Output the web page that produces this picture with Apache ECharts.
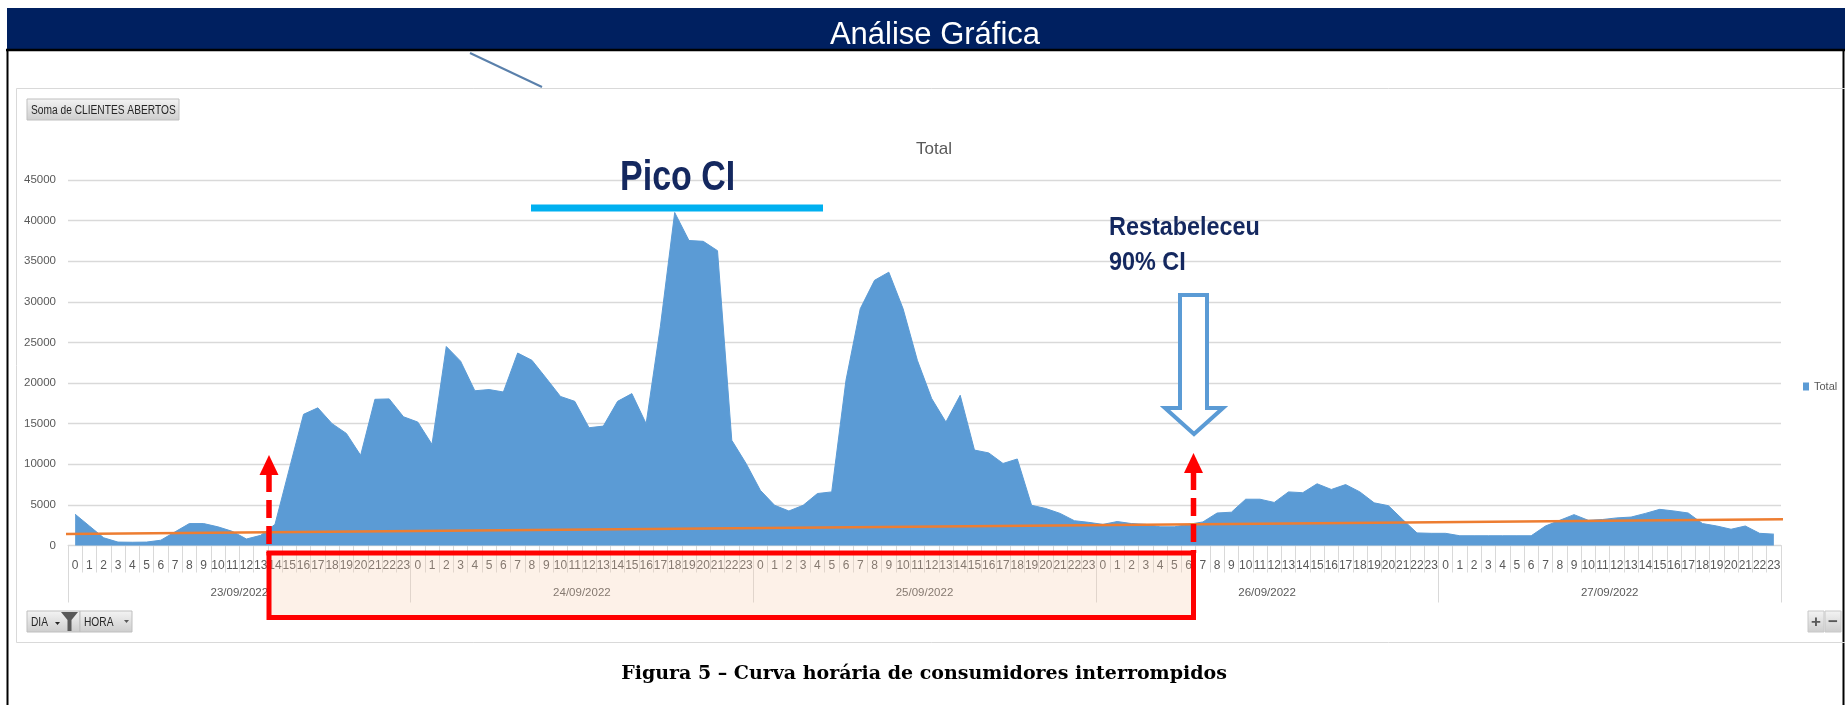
<!DOCTYPE html>
<html><head><meta charset="utf-8">
<script src="https://cdn.jsdelivr.net/npm/echarts@6/dist/echarts.min.js"></script>
<style>html,body{margin:0;padding:0;background:#fff}#c{width:1845px;height:705px}</style>
</head><body><div id="c"></div>
<script>
// ---- data ----
const hourLabels = ['0','1','2','3','4','5','6','7','8','9','10','11','12','13','14','15','16','17','18','19','20','21','22','23'];
const dayLabels = ['23/09/2022','24/09/2022','25/09/2022','26/09/2022','27/09/2022'];
const day23 = [3850,2400,950,420,400,420,650,1680,2700,2700,2300,1750,800,1250,2600,9400,16150,16950,15000,13800,11100,18000,18050,15850];
const day24 = [15200,12450,24500,22700,19050,19200,18900,23700,22800,20600,18350,17750,14500,14700,17750,18700,15000,27000,41000,37550,37450,36300,12950,10100];
const day25 = [6800,4950,4250,4950,6400,6600,20350,29150,32650,33650,29150,22800,18100,15200,18500,11750,11400,10100,10650,4950,4550,3950,3050,2850];
const day26 = [2600,2950,2700,2600,2300,2300,2600,2900,4000,4100,5700,5700,5300,6600,6500,7600,6900,7500,6600,5250,4900,3200,1550,1500];
const day27 = [1500,1200,1200,1200,1200,1200,1200,2400,3100,3800,3100,3200,3400,3500,3950,4450,4250,4000,2700,2400,2000,2400,1500,1400];
const yTicks = [0,5000,10000,15000,20000,25000,30000,35000,40000,45000];
// linear trend line (Excel "Linear (Total)"), endpoints, x in hour index
const trendX = [-2.1, 121.2];
const trendY = [1390, 3270];

// ---- build ----
const categories = [];
dayLabels.forEach(() => hourLabels.forEach(h => categories.push(h)));
const values = [].concat(day23, day24, day25, day26, day27);
const trendData = trendX.map((x, i) => [x, trendY[i]]);

const GRAY = '#595959', GRID = '#d9d9d9';
const SANS = "'Liberation Sans', Arial, sans-serif";
const NAVY = '#14285f';
const btnFill = new echarts.graphic.LinearGradient(0,0,0,1,[{offset:0,color:'#f4f4f4'},{offset:1,color:'#cdcdcd'}]);

const chart = echarts.init(document.getElementById('c'), null, {renderer:'canvas'});
chart.setOption({
  animation: false,
  backgroundColor: '#ffffff',
  title: { text: 'Total', left: 916, top: 141, padding: 0,
    textStyle: { color: GRAY, fontSize: 17, fontWeight: 'normal', fontFamily: SANS } },
  legend: { data: ['Total'], left: 1803, top: 381, icon: 'rect', itemWidth: 6, itemHeight: 8, itemGap: 5, padding: 0,
    textStyle: { color: GRAY, fontSize: 11, fontFamily: SANS } },
  grid: { left: 68, right: 64, top: 180, bottom: 159.5, containLabel: false, outerBoundsMode: 'none' },
  xAxis: [
    { type: 'category', data: categories, boundaryGap: true, position: 'bottom',
      axisLine: { show: true, lineStyle: { color: GRID, width: 1 } },
      axisTick: { show: true, interval: 0, length: 27, lineStyle: { color: GRID, width: 1 } },
      axisLabel: { interval: 0, margin: 14, color: GRAY, fontSize: 12, fontFamily: SANS },
      splitLine: { show: false } },
    { type: 'category', data: dayLabels, boundaryGap: true, position: 'bottom',
      axisLine: { show: false },
      axisTick: { show: true, interval: 0, length: 57, lineStyle: { color: GRID, width: 1 } },
      axisLabel: { interval: 0, margin: 41.5, color: GRAY, fontSize: 11.5, fontFamily: SANS },
      splitLine: { show: false } },
    { type: 'value', min: -0.5, max: categories.length - 0.5, show: false, position: 'bottom' }
  ],
  yAxis: { type: 'value', min: yTicks[0], max: yTicks[yTicks.length-1], interval: yTicks[1]-yTicks[0],
    axisLine: { show: false }, axisTick: { show: false },
    axisLabel: { color: GRAY, fontSize: 11.5, fontFamily: SANS, margin: 12, formatter: v => String(v) },
    splitLine: { show: true, lineStyle: { color: GRID, width: 1.3 } } },
  series: [
    { name: 'Total', type: 'line', xAxisIndex: 0, data: values, symbol: 'none', z: 2,
      lineStyle: { color: '#5b9bd5', width: 1 }, itemStyle: { color: '#5b9bd5' },
      areaStyle: { color: '#5b9bd5', opacity: 1 } },
    { name: 'Linear (Total)', type: 'line', xAxisIndex: 2, data: trendData, symbol: 'none', clip: false, z: 3,
      lineStyle: { color: '#ed7d31', width: 2.5 } }
  ],
  graphic: [
    // header band
    { type: 'rect', shape: { x: 7, y: 8, width: 1838, height: 41 }, style: { fill: '#002060' } },
    { type: 'text', x: 935, y: 35, style: { text: 'Análise Gráfica', fill: '#ffffff', font: "31px 'Liberation Sans', Arial, sans-serif", textAlign: 'center', textVerticalAlign: 'middle' } },
    { type: 'line', shape: { x1: 6, y1: 50, x2: 1845, y2: 50 }, style: { stroke: '#000', lineWidth: 2.5 } },
    { type: 'line', shape: { x1: 7.5, y1: 49, x2: 7.5, y2: 705 }, style: { stroke: '#000', lineWidth: 2 } },
    { type: 'line', shape: { x1: 1843.5, y1: 49, x2: 1843.5, y2: 705 }, style: { stroke: '#000', lineWidth: 2 } },
    // chart frame
    { type: 'rect', shape: { x: 16.5, y: 88.5, width: 1830, height: 554 }, style: { fill: 'none', stroke: GRID, lineWidth: 1 } },
    { type: 'line', shape: { x1: 470, y1: 53, x2: 542, y2: 87 }, style: { stroke: '#5a80ab', lineWidth: 2 } },
    // field button
    { type: 'rect', shape: { x: 27, y: 99, width: 152, height: 21 }, style: { fill: btnFill, stroke: '#bfbfbf', lineWidth: 1 } },
    { type: 'text', x: 31, y: 111, scaleX: 0.85, style: { text: 'Soma de CLIENTES ABERTOS', fill: '#262626', font: "12px 'Liberation Sans', Arial, sans-serif", textVerticalAlign: 'middle' } },
    // DIA / HORA buttons
    { type: 'rect', shape: { x: 27, y: 611, width: 53, height: 21 }, style: { fill: btnFill, stroke: '#bfbfbf', lineWidth: 1 } },
    { type: 'rect', shape: { x: 80, y: 611, width: 52, height: 21 }, style: { fill: btnFill, stroke: '#bfbfbf', lineWidth: 1 } },
    { type: 'text', x: 31, y: 623, scaleX: 0.85, style: { text: 'DIA', fill: '#262626', font: "12px 'Liberation Sans', Arial, sans-serif", textVerticalAlign: 'middle' } },
    { type: 'polygon', shape: { points: [[55,622],[60,622],[57.5,625]] }, style: { fill: '#262626' } },
    { type: 'polygon', shape: { points: [[61,612],[78,612],[71.5,620],[71.5,631],[67.5,631],[67.5,620]] }, style: { fill: '#595959' } },
    { type: 'text', x: 84, y: 623, scaleX: 0.85, style: { text: 'HORA', fill: '#262626', font: "12px 'Liberation Sans', Arial, sans-serif", textVerticalAlign: 'middle' } },
    { type: 'polygon', shape: { points: [[124,620],[129,620],[126.5,623]] }, style: { fill: '#595959' } },
    // + - buttons
    { type: 'rect', shape: { x: 1808, y: 611, width: 16, height: 21 }, style: { fill: btnFill, stroke: '#c8c8c8', lineWidth: 1 } },
    { type: 'rect', shape: { x: 1825, y: 611, width: 16, height: 21 }, style: { fill: btnFill, stroke: '#c8c8c8', lineWidth: 1 } },
    { type: 'text', x: 1816, y: 622, style: { text: '+', fill: '#595959', font: "bold 17px 'Liberation Sans', Arial, sans-serif", textAlign: 'center', textVerticalAlign: 'middle' } },
    { type: 'text', x: 1833, y: 622, style: { text: '−', fill: '#595959', font: "bold 17px 'Liberation Sans', Arial, sans-serif", textAlign: 'center', textVerticalAlign: 'middle' } },
    // caption
    { type: 'text', x: 924, y: 674, style: { text: 'Figura 5 – Curva horária de consumidores interrompidos', fill: '#000', font: "bold 19px 'DejaVu Serif', serif", textAlign: 'center', textVerticalAlign: 'middle' } },
    // Pico CI annotation
    { type: 'rect', shape: { x: 531, y: 204.5, width: 292, height: 7 }, style: { fill: '#00b0f0' }, z: 10 },
    { type: 'text', x: 620, y: 178.5, scaleX: 0.81, z: 10, style: { text: 'Pico CI', fill: NAVY, font: "bold 42px 'Liberation Sans', Arial, sans-serif", textVerticalAlign: 'middle' } },
    // Restabeleceu annotation
    { type: 'text', x: 1109, y: 227.5, scaleX: 0.9, z: 10, style: { text: 'Restabeleceu', fill: NAVY, font: "bold 26px 'Liberation Sans', Arial, sans-serif", textVerticalAlign: 'middle' } },
    { type: 'text', x: 1109, y: 263, scaleX: 0.9, z: 10, style: { text: '90% CI', fill: NAVY, font: "bold 26px 'Liberation Sans', Arial, sans-serif", textVerticalAlign: 'middle' } },
    { type: 'polygon', z: 10, shape: { points: [[1180,295],[1207,295],[1207,408],[1223,408],[1194,434],[1165,408],[1180,408]] }, style: { fill: '#ffffff', stroke: '#5b9bd5', lineWidth: 4 } },
    // red highlight box
    { type: 'rect', z: 10, shape: { x: 269, y: 553, width: 924.5, height: 64.5 }, style: { fill: 'rgba(248,203,173,0.28)' } },
    { type: 'polyline', z: 11, shape: { points: [[269,553],[269,617.5],[1193.5,617.5],[1193.5,553]] }, style: { stroke: '#ff0000', lineWidth: 5, fill: null } },
    { type: 'line', z: 11, shape: { x1: 266.5, y1: 553, x2: 1196, y2: 553 }, style: { stroke: '#ff0000', lineWidth: 5 } },
    { type: 'line', z: 11, shape: { x1: 269, y1: 474, x2: 269, y2: 553 }, style: { stroke: '#ff0000', lineWidth: 5.5, lineDash: [18, 8] } },
    { type: 'line', z: 11, shape: { x1: 1193.5, y1: 472, x2: 1193.5, y2: 553 }, style: { stroke: '#ff0000', lineWidth: 5.5, lineDash: [18, 8] } },
    { type: 'polygon', z: 11, shape: { points: [[259.5,475],[278.5,475],[269,455]] }, style: { fill: '#ff0000' } },
    { type: 'polygon', z: 11, shape: { points: [[1184,473],[1203,473],[1193.5,453]] }, style: { fill: '#ff0000' } }
  ]
});
</script></body></html>
